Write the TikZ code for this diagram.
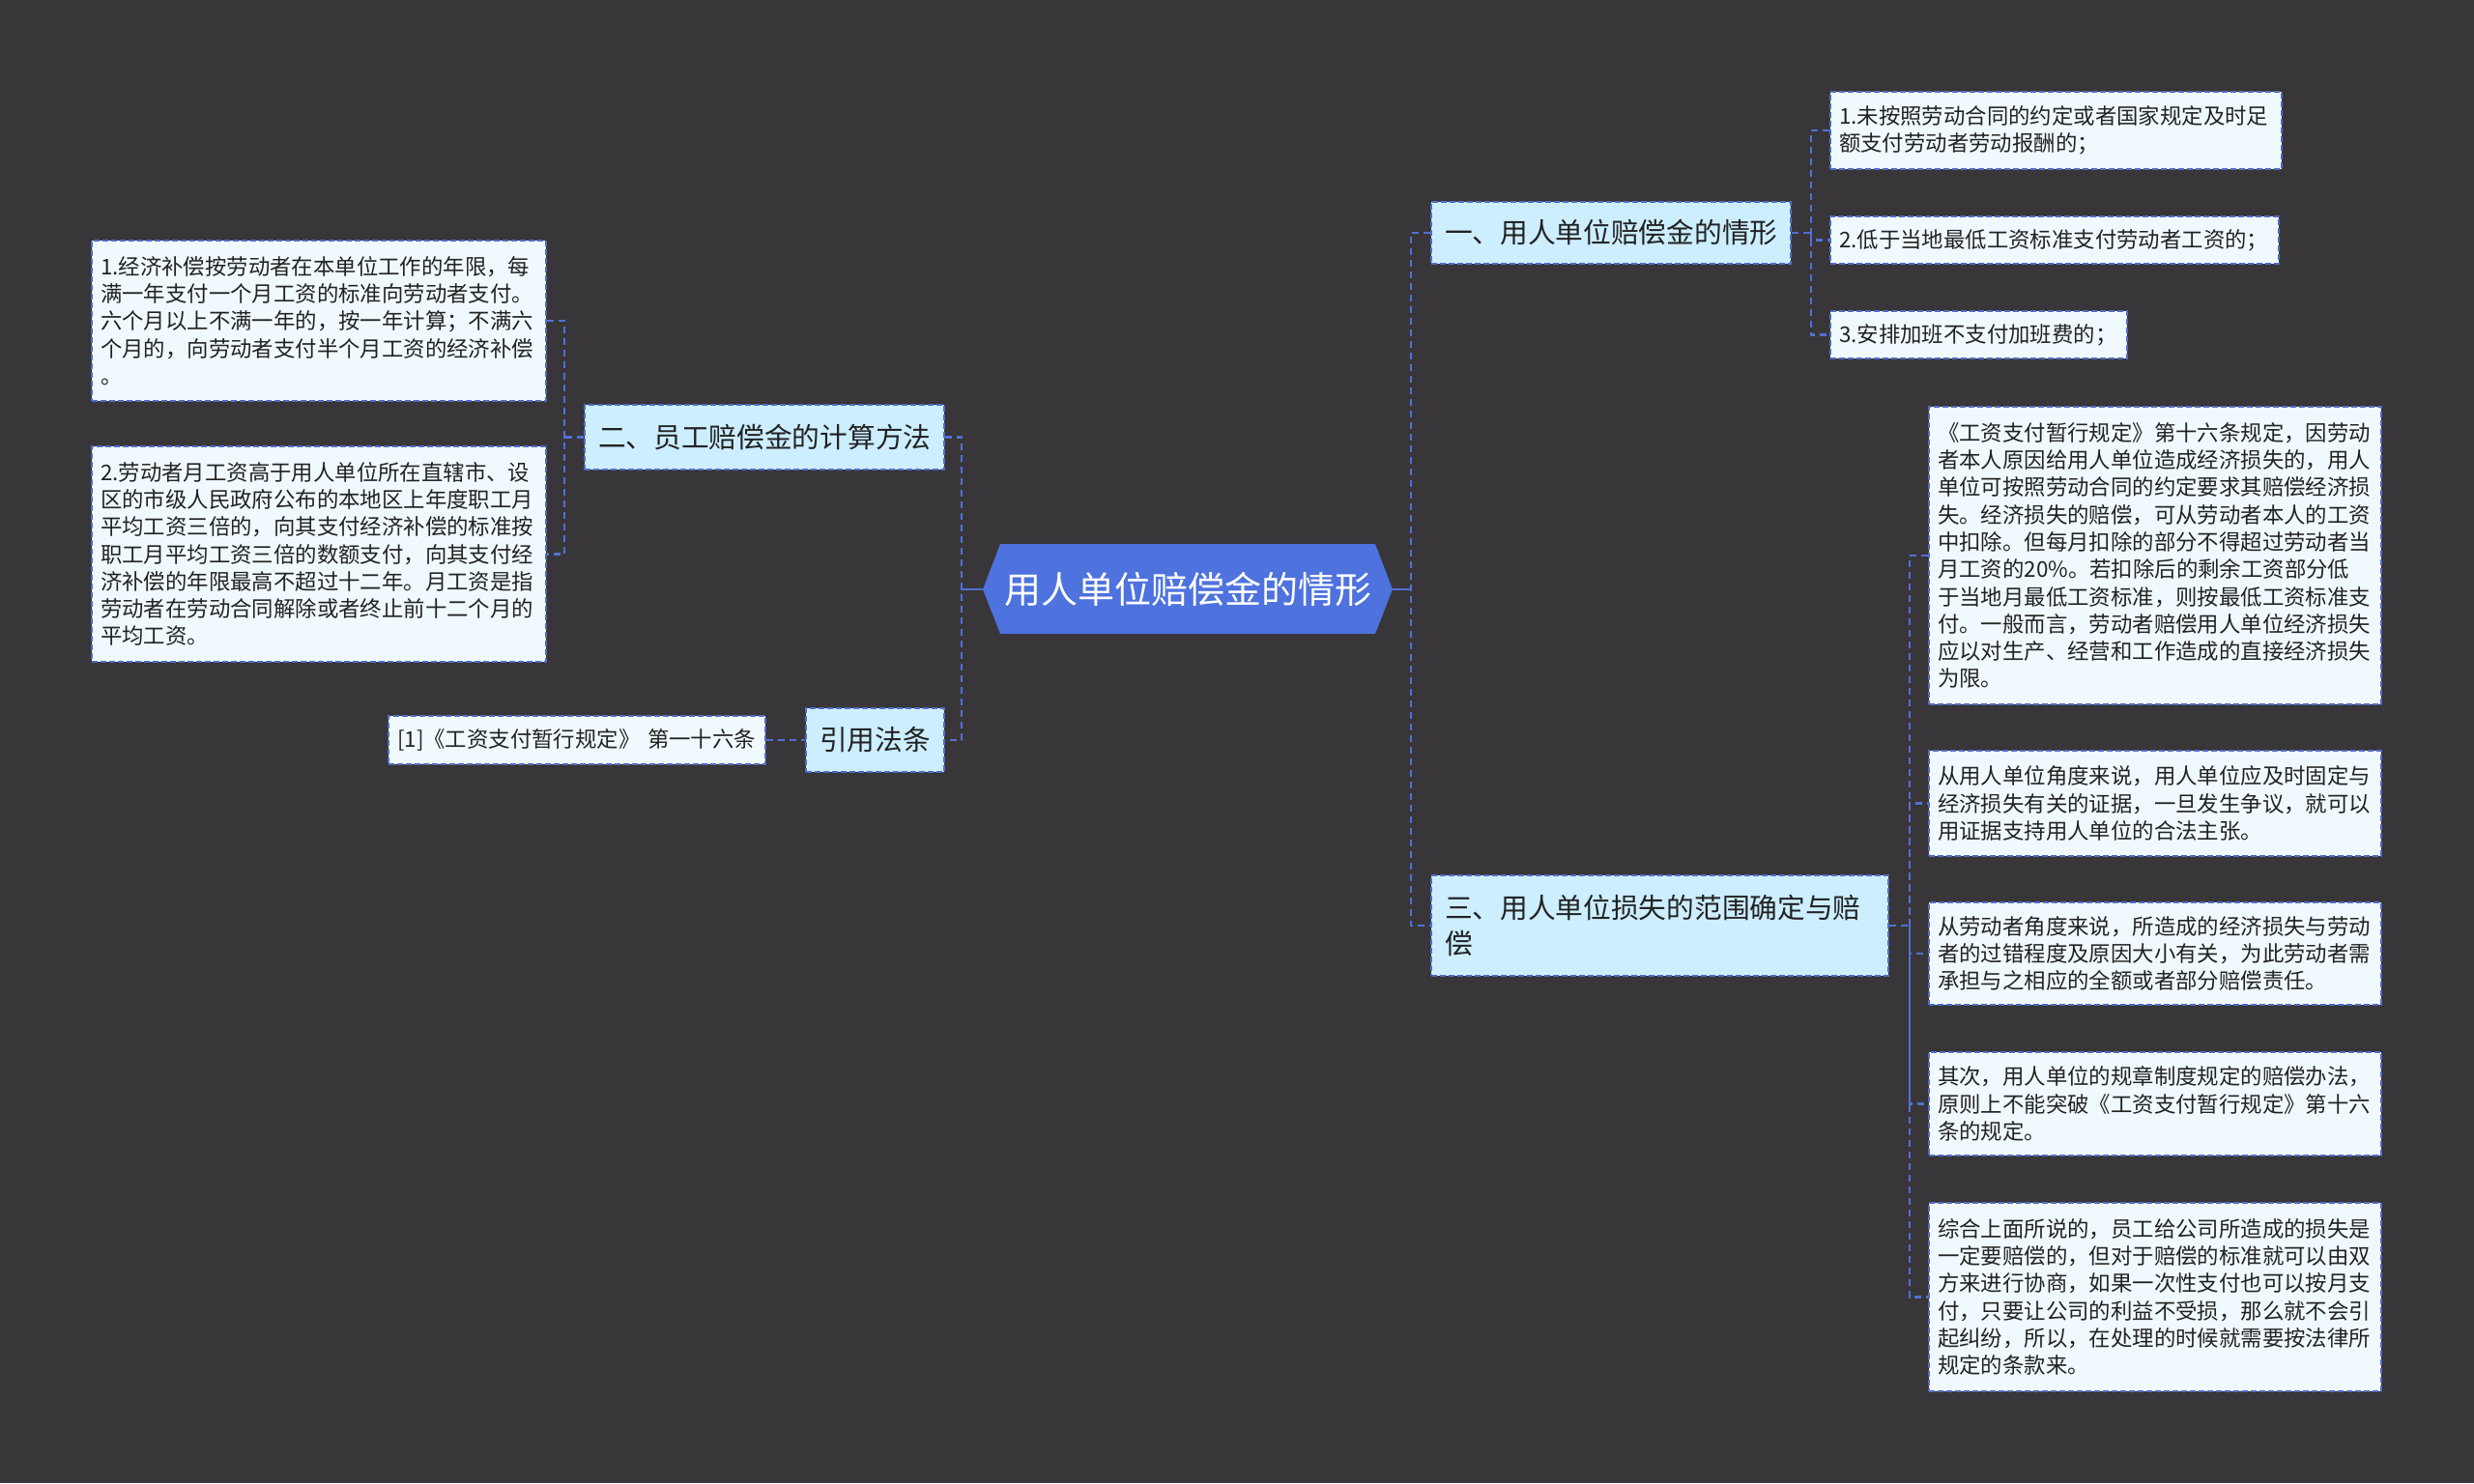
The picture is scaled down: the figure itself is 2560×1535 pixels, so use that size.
\documentclass[tikz,border=0pt]{standalone}
\usepackage{fontspec}
\setmainfont{Noto Sans CJK SC}
\usetikzlibrary{calc}
\definecolor{bg}{RGB}{56,54,56}
\definecolor{rootblue}{RGB}{78,114,222}
\definecolor{linkblue}{RGB}{82,112,214}
\definecolor{boxblue}{RGB}{80,108,200}
\definecolor{branchfill}{RGB}{204,238,255}
\definecolor{leaffill}{RGB}{240,250,254}
\definecolor{textdark}{RGB}{34,34,34}
\begin{document}
\begin{tikzpicture}[x=1pt,y=-1pt,
  boxbase/.style={draw=boxblue, dash pattern=on 6pt off 3pt, line width=1.6pt, inner ysep=4pt, align=left, text=textdark, anchor=center},
  leaf/.style={boxbase, fill=leaffill, inner xsep=9pt, font=\fontsize{22.4}{28.3}\selectfont},
  branch/.style={boxbase, fill=branchfill, inner xsep=14pt, font=\fontsize{28.7}{37}\selectfont},
  dlink/.style={draw=linkblue, line width=2.2pt, dash pattern=on 7pt off 5pt},
  slink/.style={draw=linkblue, line width=2.5pt}
]
\useasboundingbox (0,0) rectangle (2560,1535);
\fill[bg] (0,0) rectangle (2560,1535);

% root
\fill[rootblue] (1017,610) -- (1035,563) -- (1423,563) -- (1441,610) -- (1423,656) -- (1035,656) -- cycle;
\node[text=white, font=\fontsize{38}{44}\selectfont, inner sep=0pt] (root) at (1229,610) {用人单位赔偿金的情形};
\coordinate (rootW) at (1017,610);
\coordinate (rootE) at (1441,610);

% left side
\node[branch, minimum width=372pt, minimum height=67pt, text width=344pt] (b2) at (791,452.5) {二、员工赔偿金的计算方法};
\node[branch, minimum width=143pt, minimum height=66pt, text width=115pt] (ref) at (905.5,766) {引用法条};
\node[leaf, minimum width=470pt, minimum height=166pt, text width=452pt] (l1) at (330,332) {1.经济补偿按劳动者在本单位工作的年限，每\\满一年支付一个月工资的标准向劳动者支付。\\六个月以上不满一年的，按一年计算；不满六\\个月的，向劳动者支付半个月工资的经济补偿\\。};
\node[leaf, minimum width=470pt, minimum height=223pt, text width=452pt] (l2) at (330,573.5) {2.劳动者月工资高于用人单位所在直辖市、设\\区的市级人民政府公布的本地区上年度职工月\\平均工资三倍的，向其支付经济补偿的标准按\\职工月平均工资三倍的数额支付，向其支付经\\济补偿的年限最高不超过十二年。月工资是指\\劳动者在劳动合同解除或者终止前十二个月的\\平均工资。};
\node[leaf, minimum width=390pt, minimum height=50pt, text width=372pt] (l3) at (597,766) {[1]《工资支付暂行规定》 第一十六条};

% right side branches
\node[branch, minimum width=372pt, minimum height=64pt, text width=344pt] (b1) at (1667,241) {一、用人单位赔偿金的情形};
\node[branch, minimum width=473pt, minimum height=104pt, text width=445pt] (b3) at (1717.5,958) {三、用人单位损失的范围确定与赔\\偿};

\node[leaf, minimum width=467pt, minimum height=80pt, text width=449pt] (c1) at (2127.5,135) {1.未按照劳动合同的约定或者国家规定及时足\\额支付劳动者劳动报酬的；};
\node[leaf, minimum width=464pt, minimum height=49pt, text width=446pt] (c2) at (2126,248.5) {2.低于当地最低工资标准支付劳动者工资的；};
\node[leaf, minimum width=307pt, minimum height=49pt, text width=289pt] (c3) at (2047.5,346.5) {3.安排加班不支付加班费的；};

\node[leaf, minimum width=468pt, minimum height=308pt, text width=450pt] (d1) at (2230,575) {《工资支付暂行规定》第十六条规定，因劳动\\者本人原因给用人单位造成经济损失的，用人\\单位可按照劳动合同的约定要求其赔偿经济损\\失。经济损失的赔偿，可从劳动者本人的工资\\中扣除。但每月扣除的部分不得超过劳动者当\\月工资的20\%。若扣除后的剩余工资部分低\\于当地月最低工资标准，则按最低工资标准支\\付。一般而言，劳动者赔偿用人单位经济损失\\应以对生产、经营和工作造成的直接经济损失\\为限。};
\node[leaf, minimum width=468pt, minimum height=109pt, text width=450pt] (d2) at (2230,831.5) {从用人单位角度来说，用人单位应及时固定与\\经济损失有关的证据，一旦发生争议，就可以\\用证据支持用人单位的合法主张。};
\node[leaf, minimum width=468pt, minimum height=106pt, text width=450pt] (d3) at (2230,987) {从劳动者角度来说，所造成的经济损失与劳动\\者的过错程度及原因大小有关，为此劳动者需\\承担与之相应的全额或者部分赔偿责任。};
\node[leaf, minimum width=468pt, minimum height=107pt, text width=450pt] (d4) at (2230,1142.5) {其次，用人单位的规章制度规定的赔偿办法，\\原则上不能突破《工资支付暂行规定》第十六\\条的规定。};
\node[leaf, minimum width=468pt, minimum height=195pt, text width=450pt] (d5) at (2230,1342.5) {综合上面所说的，员工给公司所造成的损失是\\一定要赔偿的，但对于赔偿的标准就可以由双\\方来进行协商，如果一次性支付也可以按月支\\付，只要让公司的利益不受损，那么就不会引\\起纠纷，所以，在处理的时候就需要按法律所\\规定的条款来。};

% junctions
\coordinate (lj) at (995,610);
\coordinate (lj2) at (584,452.5);
\coordinate (rj) at (1460,610);
\coordinate (rj1) at (1874,241);
\coordinate (rj3) at (1976,958);

% connectors left
\draw[slink] (rootW) -- (lj);
\draw[dlink] (b2.east) -| (lj) |- (ref.east);
\draw[dlink] (b2.west) -- (lj2);
\draw[dlink] (l1.east) -| (lj2) |- (l2.east);
\draw[dlink] (l3.east) -- (ref.west);

% connectors right
\draw[slink] (rootE) -- (rj);
\draw[dlink] (b1.west) -| (rj) |- (b3.west);
\draw[dlink] (b1.east) -- (rj1);
\draw[dlink] (c1.west) -| (rj1) |- (c3.west);
\draw[dlink] (rj1) |- (c2.west);
\draw[dlink] (b3.east) -- (rj3);
\draw[dlink] (d1.west) -| (rj3) |- (d5.west);
\draw[dlink] (rj3) |- (d2.west);
\draw[dlink] (rj3) |- (d3.west);
\draw[dlink] (rj3) |- (d4.west);
\end{tikzpicture}
\end{document}
